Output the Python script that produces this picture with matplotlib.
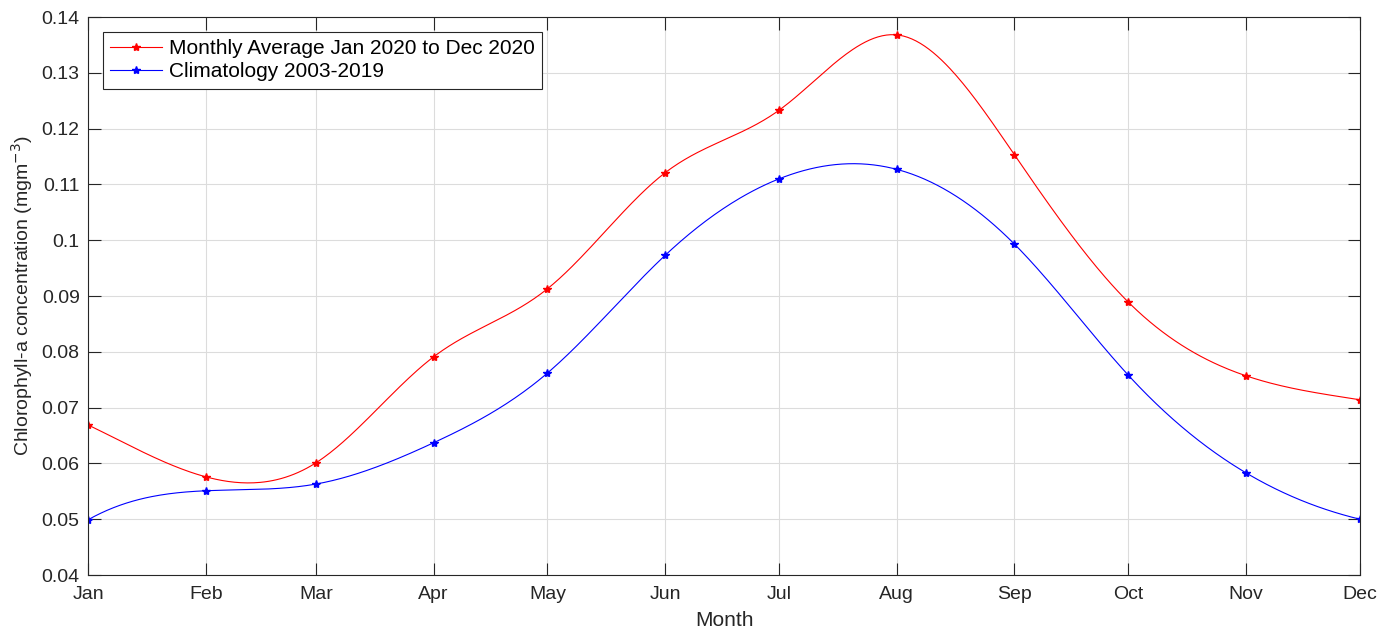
import numpy as np
import matplotlib
matplotlib.use('Agg')
import matplotlib.pyplot as plt

plt.rcParams['font.family'] = ['Liberation Sans', 'DejaVu Sans']

months = ['Jan', 'Feb', 'Mar', 'Apr', 'May', 'Jun',
          'Jul', 'Aug', 'Sep', 'Oct', 'Nov', 'Dec']
month_starts = np.arange('2020-01', '2021-01', dtype='datetime64[M]').astype('datetime64[D]')

chl_2020 = [0.0669, 0.0576, 0.0601, 0.0791, 0.0913, 0.1121,
            0.1233, 0.1368, 0.1153, 0.0889, 0.0757, 0.0714]
chl_clim = [0.0499, 0.0551, 0.0563, 0.0637, 0.0762, 0.0973,
            0.1110, 0.1127, 0.0993, 0.0758, 0.0583, 0.0500]


def spline_notaknot(x, y, xq):
    # cubic spline with not-a-knot ends (same as MATLAB spline)
    x = np.asarray(x, float)
    y = np.asarray(y, float)
    n = len(x) - 1
    h = np.diff(x)
    A = np.zeros((n + 1, n + 1))
    b = np.zeros(n + 1)
    A[0, 0], A[0, 1], A[0, 2] = h[1], -(h[0] + h[1]), h[0]
    A[n, n - 2], A[n, n - 1], A[n, n] = h[n - 1], -(h[n - 2] + h[n - 1]), h[n - 2]
    for i in range(1, n):
        A[i, i - 1] = h[i - 1]
        A[i, i] = 2 * (h[i - 1] + h[i])
        A[i, i + 1] = h[i]
        b[i] = 6 * ((y[i + 1] - y[i]) / h[i] - (y[i] - y[i - 1]) / h[i - 1])
    M = np.linalg.solve(A, b)
    idx = np.clip(np.searchsorted(x, xq) - 1, 0, n - 1)
    x0, x1 = x[idx], x[idx + 1]
    hh = x1 - x0
    return (M[idx] * (x1 - xq) ** 3 / (6 * hh) + M[idx + 1] * (xq - x0) ** 3 / (6 * hh)
            + (y[idx] - M[idx] * hh ** 2 / 6) * (x1 - xq) / hh
            + (y[idx + 1] - M[idx + 1] * hh ** 2 / 6) * (xq - x0) / hh)


days = (month_starts - month_starts[0]).astype(float)
fine = np.linspace(days[0], days[-1], 600)

fig = plt.figure(figsize=(13.89, 6.33), dpi=100)
ax = fig.add_axes([0.0634, 0.0916, 0.9157, 0.8815])

ax.plot(fine, spline_notaknot(days, chl_2020, fine), color='red', lw=0.8)
ax.plot(fine, spline_notaknot(days, chl_clim, fine), color='blue', lw=0.8)
ax.plot(days, chl_2020, color='red', marker='*', ms=6, linestyle='none')
ax.plot(days, chl_clim, color='blue', marker='*', ms=6, linestyle='none')

# legend handles with line + marker
h1, = ax.plot([], [], color='red', lw=0.8, marker='*', ms=6)
h2, = ax.plot([], [], color='blue', lw=0.8, marker='*', ms=6)
leg = ax.legend([h1, h2], ['Monthly Average Jan 2020 to Dec 2020', 'Climatology 2003-2019'],
                loc='upper left', bbox_to_anchor=(0.0035, 0.992), fontsize=15,
                fancybox=False, framealpha=1, edgecolor='#262626',
                handlelength=2.5, handletextpad=0.3, borderpad=0.35, labelspacing=0.2)
leg.get_frame().set_linewidth(0.8)

ax.set_xlim(days[0], days[-1])
ax.set_ylim(0.04, 0.14)
ax.set_xticks(days)
ax.set_xticklabels(months)
ax.set_yticks(np.arange(0.04, 0.1401, 0.01))
ax.set_yticklabels(['0.04', '0.05', '0.06', '0.07', '0.08', '0.09', '0.1',
                    '0.11', '0.12', '0.13', '0.14'])
ax.grid(True, color='#dcdcdc', lw=0.8)
ax.set_axisbelow(True)
ax.tick_params(direction='in', length=9, width=0.8, top=True, right=True,
               labelsize=14, colors='#262626')
ax.tick_params(axis='x', pad=8)
ax.tick_params(axis='y', pad=6)
for s in ax.spines.values():
    s.set_color('#262626')
    s.set_linewidth(0.8)

ax.set_xlabel('Month', fontsize=15, color='#262626', labelpad=6)
ax.set_ylabel('Chlorophyll-a concentration (mgm$^{-3}$)', fontsize=14, color='#262626', labelpad=5)

fig.savefig('out.png', dpi=100, facecolor='white')
